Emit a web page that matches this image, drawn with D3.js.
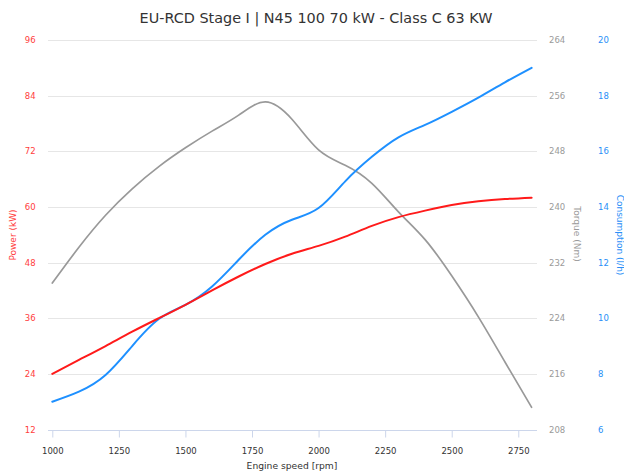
<!DOCTYPE html>
<html lang="en">

<head>
    <meta charset="UTF-8">
    <title>EU-RCD Stage I | N45 100 70 kW</title>
    <script src="https://d3js.org/d3.v7.min.js"></script>
    <style>
        body {
            margin: 0;
            background: #fff;
            font-family: "DejaVu Sans", Verdana, sans-serif;
        }
    </style>
</head>

<body>
    <div id="chart"></div>

    <script>
        const width = 624;
        const height = 472;

        // readings every 100 rpm
        const rpm = [1000, 1100, 1200, 1300, 1400, 1500, 1600, 1700, 1800, 1900,
            2000, 2100, 2200, 2300, 2400, 2500, 2600, 2700, 2800];
        const power = [24, 27, 30, 33.1, 36, 38.9, 42, 45, 47.7, 49.9,
            51.6, 53.6, 55.9, 57.8, 59.2, 60.4, 61.2, 61.7, 62];
        const torque = [229.05, 234.2, 238.8, 242.6, 245.8, 248.5, 250.9, 253.2, 255.1, 252.6,
            248.2, 246, 243.4, 239.3, 235.3, 230.1, 224.2, 217.7, 211.2];
        const consumption = [7, 7.36, 7.96, 9, 9.97, 10.48, 11.14, 12.1, 13, 13.54,
            13.96, 14.92, 15.8, 16.5, 16.95, 17.42, 17.93, 18.48, 19];

        const rpmTicks = [1000, 1250, 1500, 1750, 2000, 2250, 2500, 2750];
        const powerTicks = [12, 24, 36, 48, 60, 72, 84, 96];
        const torqueTicks = [208, 216, 224, 232, 240, 248, 256, 264];
        const consumptionTicks = [6, 8, 10, 12, 14, 16, 18, 20];

        const plotLeft = 48, plotRight = 537, plotTop = 40, plotBottom = 429.5;

        const x = d3.scaleLinear().domain([1000, 2800]).range([52.3, 531.6]);
        const yPower = d3.scaleLinear().domain([12, 96]).range([plotBottom, plotTop]);
        const yTorque = d3.scaleLinear().domain([208, 264]).range([plotBottom, plotTop]);
        const yCons = d3.scaleLinear().domain([6, 20]).range([plotBottom, plotTop]);

        const svg = d3.select("#chart")
            .append("svg")
            .attr("width", width)
            .attr("height", height);

        // title
        svg.append("text")
            .attr("x", 316)
            .attr("y", 22.7)
            .attr("text-anchor", "middle")
            .style("font-size", "14.4px")
            .style("fill", "#333")
            .text("EU-RCD Stage I | N45 100 70 kW - Class C 63 KW");

        // grid
        svg.append("g")
            .selectAll("line")
            .data(powerTicks.slice(1))
            .join("line")
            .attr("x1", plotLeft)
            .attr("x2", plotRight)
            .attr("y1", d => Math.round(yPower(d)) + 0.5)
            .attr("y2", d => Math.round(yPower(d)) + 0.5)
            .attr("stroke", "#e6e6e6");

        // x axis
        const xAxis = svg.append("g")
            .attr("transform", `translate(0,${Math.round(plotBottom) + 0.5})`)
            .call(d3.axisBottom(x).tickValues(rpmTicks).tickSize(7).tickPadding(10).tickFormat(d3.format("d")));
        xAxis.select(".domain").remove();
        xAxis.selectAll(".tick line").attr("stroke", "#ccd6eb");
        xAxis.selectAll(".tick text")
            .style("font-family", "DejaVu Sans")
            .style("font-size", "8.5px")
            .attr("fill", "#333");
        xAxis.append("line")
            .attr("x1", plotLeft)
            .attr("x2", plotRight)
            .attr("stroke", "#ccd6eb");

        svg.append("text")
            .attr("x", 292)
            .attr("y", 469)
            .attr("text-anchor", "middle")
            .style("font-size", "9.2px")
            .style("fill", "#333")
            .text("Engine speed [rpm]");

        // y axes, labels only
        function yLabels(ticks, scale, xPos, anchor, color) {
            svg.append("g")
                .selectAll("text")
                .data(ticks)
                .join("text")
                .attr("x", xPos)
                .attr("y", d => scale(d) + 3)
                .attr("text-anchor", anchor)
                .style("font-size", "8.5px")
                .style("fill", color)
                .text(d => d);
        }
        yLabels(powerTicks, yPower, 35.7, "end", "#ff3d3d");
        yLabels(torqueTicks, yTorque, 549, "start", "#9a9a9a");
        yLabels(consumptionTicks, yCons, 598, "start", "#2a8ff7");

        function axisTitle(label, cx, cy, angle, color) {
            svg.append("text")
                .attr("transform", `translate(${cx},${cy}) rotate(${angle})`)
                .attr("text-anchor", "middle")
                .attr("dy", "0.35em")
                .style("font-size", "9px")
                .style("fill", color)
                .text(label);
        }
        axisTitle("Power (kW)", 13.3, 235, -90, "#ff3d3d");
        axisTitle("Torque (Nm)", 577, 234, 90, "#9a9a9a");
        axisTitle("Consumption (l/h)", 620, 235, 90, "#2a8ff7");

        // series
        function drawLine(values, scale, color, w) {
            const line = d3.line()
                .x((d, i) => x(rpm[i]))
                .y(d => scale(d))
                .curve(d3.curveNatural);
            svg.append("path")
                .datum(values)
                .attr("d", line)
                .attr("fill", "none")
                .attr("stroke", color)
                .attr("stroke-width", w)
                .attr("stroke-linejoin", "round")
                .attr("stroke-linecap", "round");
        }
        drawLine(torque, yTorque, "#999999", 1.7);
        drawLine(consumption, yCons, "#1e90ff", 2);
        drawLine(power, yPower, "#ff1a1a", 2);
    </script>
</body>

</html>
